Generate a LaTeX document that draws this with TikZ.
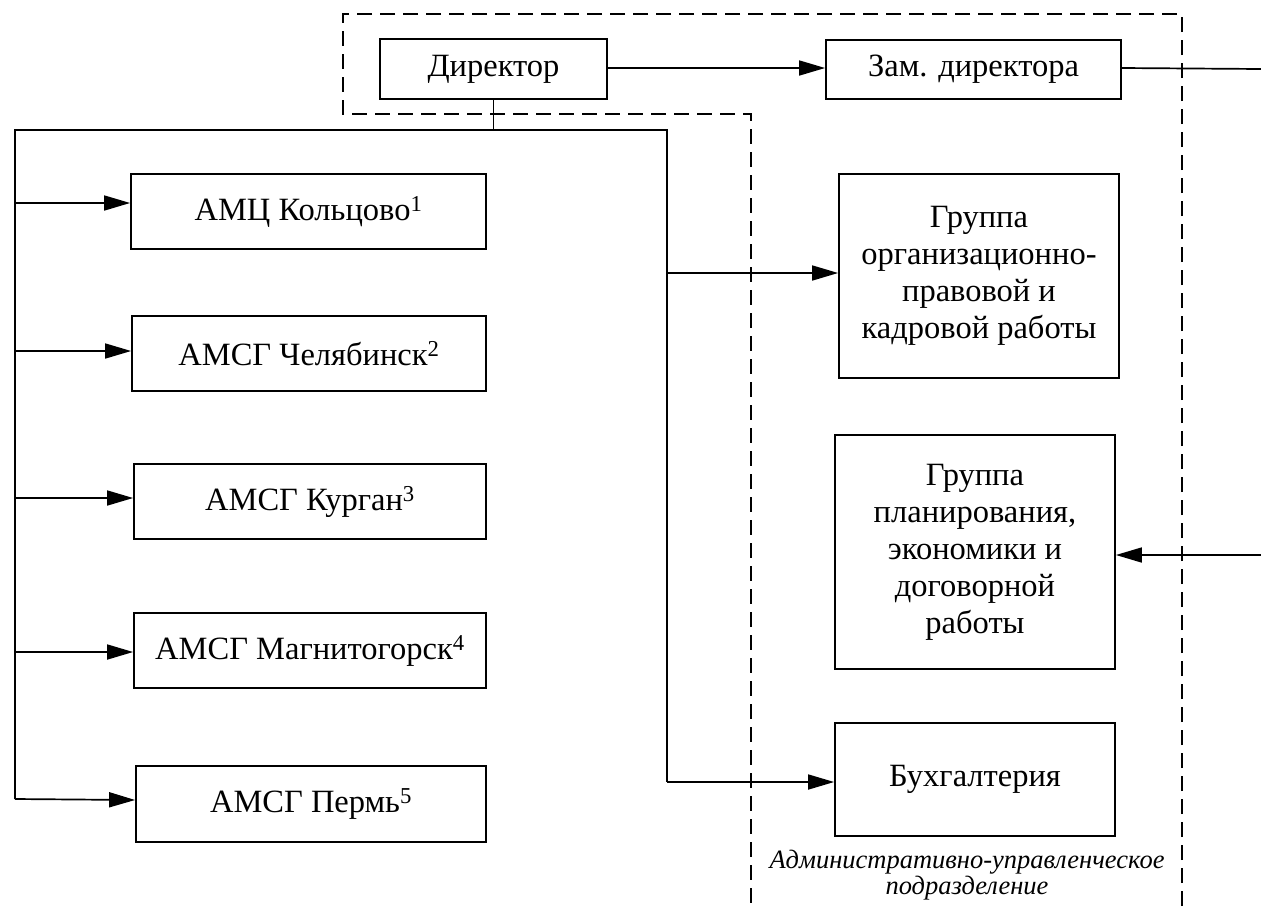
\documentclass[tikz,border=0pt]{standalone}
\usepackage{fontspec}
\setmainfont{Liberation Serif}
\usetikzlibrary{arrows.meta}
\begin{document}
\begin{tikzpicture}[x=1pt,y=-1pt,
  box/.style={draw, line width=1.8pt, inner sep=0pt, align=center,
    font=\fontsize{32.5}{37}\selectfont},
  conn/.style={line width=1.7pt},
  arr/.style={conn, -{Triangle[length=26pt,width=15pt]}},
  region/.style={dashed, dash pattern=on 15pt off 8pt, line width=1.6pt},
  lbl/.style={align=center, font=\fontsize{26.5}{25.5}\selectfont\itshape}]
\useasboundingbox (0,0) rectangle (1261,906);
% dashed region
\draw[region] (1182,906) -- (1182,14) -- (343,14) -- (343,114) -- (751,114) -- (751,906);
% boxes
\node[box, minimum width=227pt, minimum height=60pt] (dir) at (493.5,69) {Директор};
\node[box, minimum width=295pt, minimum height=59pt] (zam) at (973.5,69.5) {Зам. директора};
\node[box, minimum width=280pt, minimum height=204pt] (org) at (979,276) {Группа\\организационно-\\правовой и\\кадровой работы};
\node[box, minimum width=280pt, minimum height=234pt] (plan) at (975,552) {Группа\\планирования,\\экономики и\\договорной\\работы};
\node[box, minimum width=280pt, minimum height=113pt] (buh) at (975,779.5) {Бухгалтерия};
\node[box, minimum width=355pt, minimum height=75pt] (kol) at (308.5,211.5) {АМЦ Кольцово\textsuperscript{1}};
\node[box, minimum width=354pt, minimum height=75pt] (chel) at (309,353.5) {АМСГ Челябинск\textsuperscript{2}};
\node[box, minimum width=352pt, minimum height=75pt] (kur) at (310,501.5) {АМСГ Курган\textsuperscript{3}};
\node[box, minimum width=352pt, minimum height=75pt] (mag) at (310,650.5) {АМСГ Магнитогорск\textsuperscript{4}};
\node[box, minimum width=350pt, minimum height=76pt] (perm) at (311,804) {АМСГ Пермь\textsuperscript{5}};
\node[lbl] (adm) at (967,875) {Административно-управленческое\\подразделение};
% coordinates
\coordinate (tl) at (15,130);
\coordinate (tr) at (667,130);
\coordinate (tj) at (dir.south |- tl);
\coordinate (bl) at (15,799);
\coordinate (br) at (667,782);
\coordinate (a1) at (15,203);
\coordinate (a2) at (15,351);
\coordinate (a3) at (15,498);
\coordinate (a4) at (15,652);
\coordinate (o1) at (667,273);
\coordinate (ze) at (1261,69);
\coordinate (pe) at (1261,555);
% connectors
\draw[conn] (dir.south) -- (tj);
\draw[conn] (bl) -- (tl) -- (tr) -- (br);
\draw[arr] (a1) -- (a1 -| kol.west);
\draw[arr] (a2) -- (a2 -| chel.west);
\draw[arr] (a3) -- (a3 -| kur.west);
\draw[arr] (a4) -- (a4 -| mag.west);
\draw[arr] (bl) -- (perm.west |- 0,800);
\draw[arr] (o1) -- (o1 -| org.west);
\draw[arr] (br) -- (br -| buh.west);
\draw[arr] (dir.east |- 0,68) -- (zam.west |- 0,68);
\draw[conn] (zam.east |- 0,68) -- (ze);
\draw[arr] (pe) -- (pe -| plan.east);
\end{tikzpicture}
\end{document}
